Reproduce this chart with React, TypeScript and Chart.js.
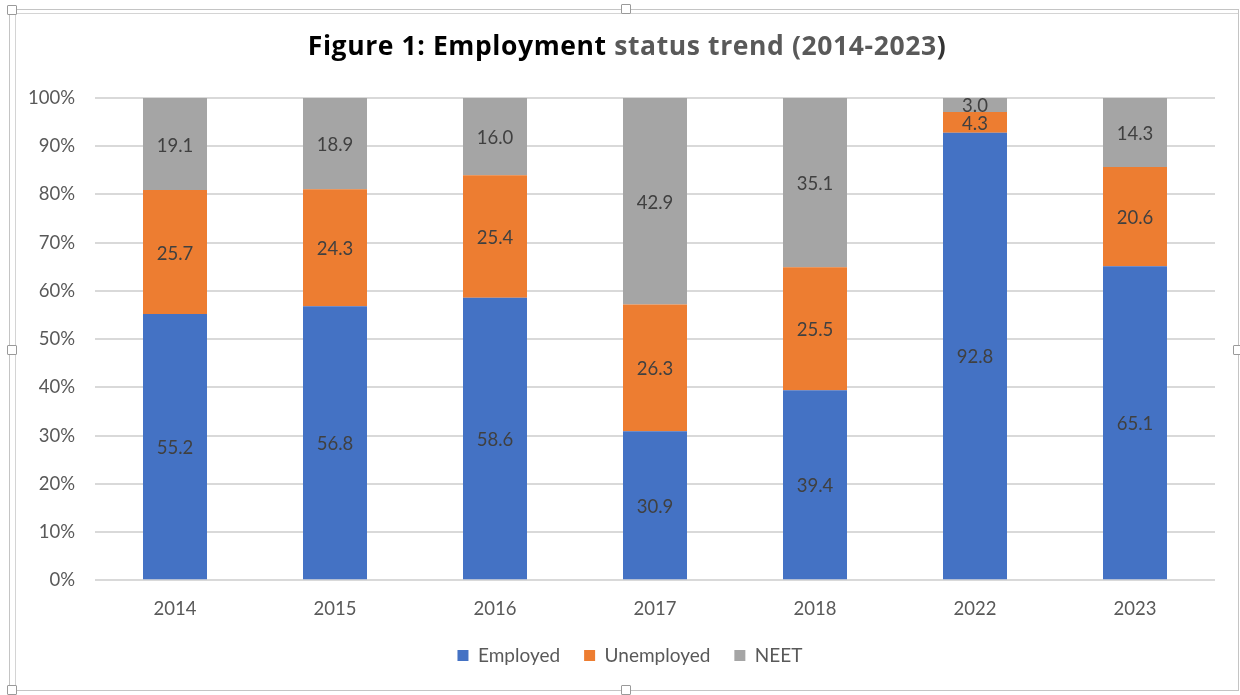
import React, { useEffect, useRef } from "react";
import { Chart, registerables } from "chart.js";

Chart.register(...registerables);

const categories = ["2014", "2015", "2016", "2017", "2018", "2022", "2023"];
const employed = [55.2, 56.8, 58.6, 30.9, 39.4, 92.8, 65.1];
const unemployed = [25.7, 24.3, 25.4, 26.3, 25.5, 4.3, 20.6];
const neet = [19.1, 18.9, 16.0, 42.9, 35.1, 3.0, 14.3];
const seriesNames = ["Employed", "Unemployed", "NEET"];
const seriesColors = ["#4472C4", "#ED7D31", "#A5A5A5"];
const titleDark = "Figure 1: Employment";
const titleGray = " status trend (2014-2023";
const titleEnd = ")";

const FONT = "Lato, 'Open Sans', sans-serif";
const TITLE_FONT = "'Open Sans', Lato, sans-serif";

const segLabels = {
  id: "segLabels",
  afterDatasetsDraw(chart: any) {
    const ctx = chart.ctx;
    const area = chart.chartArea;
    ctx.save();
    ctx.font = `18.5px ${FONT}`;
    ctx.fillStyle = "#404040";
    ctx.textAlign = "center";
    ctx.textBaseline = "middle";
    chart.data.datasets.forEach((ds: any, i: number) => {
      const meta = chart.getDatasetMeta(i);
      meta.data.forEach((bar: any, j: number) => {
        const v = ds.data[j];
        const top = Math.max(Math.min(bar.y, bar.base), area.top);
        const bottom = Math.min(Math.max(bar.y, bar.base), area.bottom);
        ctx.fillText(Number(v).toFixed(1), bar.x, (top + bottom) / 2 + 1.5);
      });
    });
    ctx.restore();
  },
};

const legendShift = {
  id: "legendShift",
  afterLayout(chart: any) {
    if (chart.legend) chart.legend.left = 45;
  },
};

const handleStyle = (x: number, y: number): React.CSSProperties => ({
  position: "absolute",
  left: x - 5,
  top: y - 5,
  width: 8,
  height: 8,
  background: "#fff",
  border: "1px solid #9a9a9a",
  borderRadius: 1,
});

export default function App() {
  const ref = useRef<HTMLCanvasElement>(null);

  useEffect(() => {
    if (!ref.current) return;
    const values = [employed, unemployed, neet];
    const chart = new Chart(ref.current, {
      type: "bar",
      data: {
        labels: categories,
        datasets: seriesNames.map((name, i) => ({
          label: name,
          data: values[i],
          backgroundColor: seriesColors[i],
          borderWidth: 0,
          barPercentage: 0.4,
          categoryPercentage: 1,
        })),
      },
      options: {
        responsive: false,
        animation: false,
        devicePixelRatio: 1,
        layout: { padding: { top: 98, right: 25, bottom: 20, left: 0 } },
        plugins: {
          title: { display: false },
          tooltip: { enabled: false },
          legend: {
            position: "bottom",
            labels: {
              boxWidth: 11,
              boxHeight: 11,
              padding: 24,
              color: "#595959",
              font: { family: FONT, size: 19 },
            },
          },
        },
        scales: {
          x: {
            stacked: true,
            grid: { display: false, drawTicks: false },
            border: { display: false },
            ticks: {
              color: "#595959",
              font: { family: FONT, size: 18.5 },
              padding: 17.5,
            },
            afterFit: (s: any) => {
              s.height = 41.75;
            },
          },
          y: {
            stacked: true,
            min: 0,
            max: 100,
            grid: { color: "#d9d9d9", lineWidth: 2, drawTicks: false },
            border: { display: false },
            ticks: {
              stepSize: 10,
              color: "#595959",
              font: { family: FONT, size: 18.5 },
              padding: 20,
              callback: (v: any) => `${v}%`,
            },
            afterFit: (s: any) => {
              s.width = 95;
            },
          },
        },
      },
      plugins: [segLabels, legendShift],
    });
    return () => chart.destroy();
  }, []);

  return (
    <div
      style={{
        position: "absolute",
        left: 0,
        top: 0,
        width: 1240,
        height: 695,
        background: "#fff",
        overflow: "hidden",
      }}
    >
      <canvas
        ref={ref}
        width={1240}
        height={695}
        style={{ position: "absolute", left: 0, top: 0, width: 1240, height: 695 }}
      />
      <div
        style={{
          position: "absolute",
          left: 0,
          top: 32,
          width: 1254,
          textAlign: "center",
          fontFamily: TITLE_FONT,
          fontWeight: 700,
          fontSize: 26.5,
          letterSpacing: "0.6px",
          lineHeight: "26.5px",
          whiteSpace: "nowrap",
        }}
      >
        <span style={{ color: "#000" }}>{titleDark}</span>
        <span style={{ color: "#595959" }}>{titleGray}</span>
        <span style={{ color: "#333" }}>{titleEnd}</span>
      </div>
      <div
        style={{
          position: "absolute",
          left: 9,
          top: 9,
          width: 1228,
          height: 680,
          border: "1px solid #c4c4c4",
          pointerEvents: "none",
        }}
      />
      <div
        style={{
          position: "absolute",
          left: 15,
          top: 13,
          width: 1222,
          height: 676,
          borderLeft: "1px solid #d4d4d4",
          borderTop: "1px solid #d4d4d4",
          pointerEvents: "none",
        }}
      />
      <div style={handleStyle(12, 10)} />
      <div style={handleStyle(626, 9)} />
      <div style={handleStyle(12, 350)} />
      <div style={handleStyle(1238, 350)} />
      <div style={handleStyle(12, 690)} />
      <div style={handleStyle(626, 690)} />
    </div>
  );
}
